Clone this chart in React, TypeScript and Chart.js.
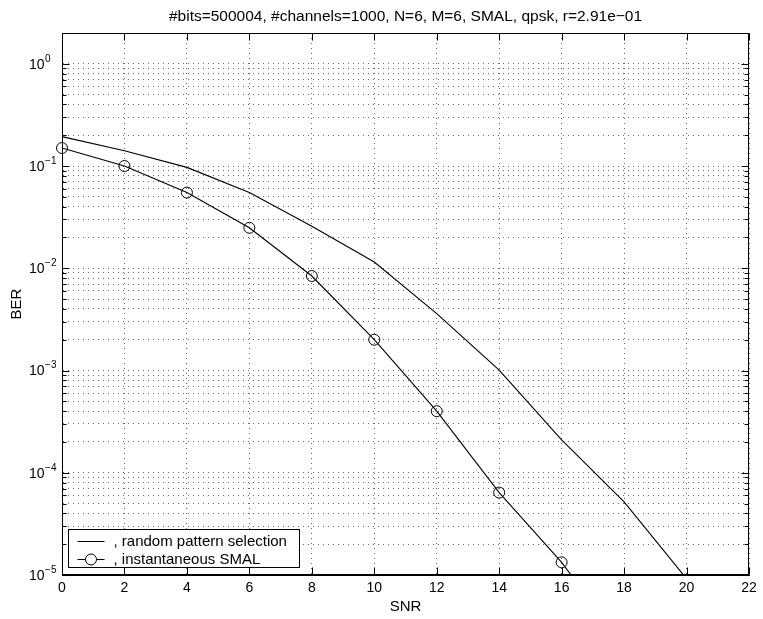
import React, { useEffect, useRef } from 'react';
import { Chart, registerables } from 'chart.js';

Chart.register(...registerables);

const TITLE = '#bits=500004, #channels=1000, N=6, M=6, SMAL, qpsk, r=2.91e\u221201';
const X_LABEL = 'SNR';
const Y_LABEL = 'BER';

const RANDOM_SNR = [0, 2, 4, 6, 8, 10, 12, 14, 16, 18, 20];
const RANDOM_BER = [0.194, 0.141, 0.097, 0.055, 0.0258, 0.0115, 0.0036, 0.00101, 0.00021, 0.000052, 0.0000092];

const SMAL_SNR = [0, 2, 4, 6, 8, 10, 12, 14, 16, 18];
const SMAL_BER = [0.15, 0.1, 0.055, 0.0249, 0.0084, 0.002, 0.0004, 0.000064, 0.0000133, 0.000002];

const SERIES_LABELS = [', random pattern selection', ', instantaneous SMAL'];

const X_TICKS = [0, 2, 4, 6, 8, 10, 12, 14, 16, 18, 20, 22];
const Y_DECADES = [-5, -4, -3, -2, -1, 0];
const Y_MINOR_MULTIPLIERS = [1, 2, 3, 4, 5, 6, 7, 8, 9];
const Y_MIN = 1e-5;
const Y_MAX = 2;

const FONT = '"Liberation Sans", Arial, Helvetica, sans-serif';

const yTickValues: number[] = [];
Y_DECADES.forEach((e) => {
  Y_MINOR_MULTIPLIERS.forEach((m) => {
    const v = m * Math.pow(10, e);
    if (v <= Y_MAX * 1.0001) yTickValues.push(v);
  });
});

const isDecade = (v: number) => Math.abs(Math.log10(v) - Math.round(Math.log10(v))) < 1e-9;

const matlabPlugin = {
  id: 'matlabDecor',
  afterDatasetsDraw(chart: any) {
    const { ctx, chartArea: a, scales } = chart;
    const xs = scales.x;
    const ys = scales.y;
    const L = Math.round(a.left) + 0.5;
    const R = Math.round(a.right) - 0.5;
    const T = Math.round(a.top) + 0.5;
    const B = Math.round(a.bottom) - 0.5;
    ctx.save();
    ctx.strokeStyle = '#000';
    ctx.lineWidth = 1;
    ctx.setLineDash([]);
    ctx.beginPath();
    X_TICKS.forEach((v) => {
      const px = Math.round(xs.getPixelForValue(v)) + 0.5;
      ctx.moveTo(px, B);
      ctx.lineTo(px, B - 7);
      ctx.moveTo(px, T);
      ctx.lineTo(px, T + 7);
    });
    yTickValues.forEach((v) => {
      const py = Math.round(ys.getPixelForValue(v)) + 0.5;
      const len = isDecade(v) ? 7 : 4;
      ctx.moveTo(L, py);
      ctx.lineTo(L + len, py);
      ctx.moveTo(R, py);
      ctx.lineTo(R - len, py);
    });
    ctx.stroke();
    ctx.strokeRect(L, T, R - L, B - T);

    // legend
    const lx = Math.round(a.left) + 6.5;
    const ly = Math.round(a.bottom) - 45.5;
    const lw = 231;
    const lh = 38;
    ctx.fillStyle = '#fff';
    ctx.fillRect(lx, ly, lw, lh);
    ctx.strokeRect(lx, ly, lw, lh);
    const rows = [ly + 11, ly + 29];
    ctx.font = '15px ' + FONT;
    ctx.textAlign = 'left';
    ctx.textBaseline = 'middle';
    chart.data.datasets.forEach((ds: any, i: number) => {
      const y = Math.round(rows[i]) + 0.5;
      const x0 = lx + 9;
      const x1 = lx + 36;
      ctx.beginPath();
      if (ds.pointRadius > 0) {
        const cx = (x0 + x1) / 2;
        ctx.moveTo(x0, y);
        ctx.lineTo(cx - ds.pointRadius, y);
        ctx.moveTo(cx + ds.pointRadius, y);
        ctx.lineTo(x1, y);
        ctx.stroke();
        ctx.beginPath();
        ctx.arc(cx, y, ds.pointRadius, 0, Math.PI * 2);
        ctx.stroke();
      } else {
        ctx.moveTo(x0, y);
        ctx.lineTo(x1, y);
        ctx.stroke();
      }
      ctx.fillStyle = '#000';
      ctx.fillText(ds.label, lx + 45, rows[i] + 1);
    });
    ctx.restore();
  },
  afterDraw(chart: any) {
    const { ctx, scales } = chart;
    const ys = scales.y;
    ctx.save();
    ctx.fillStyle = '#000';
    ctx.textAlign = 'left';
    ctx.textBaseline = 'middle';
    Y_DECADES.forEach((e) => {
      const y = ys.getPixelForValue(Math.pow(10, e));
      ctx.font = '14px ' + FONT;
      ctx.fillText('10', 29, y + 1);
      const w = ctx.measureText('10').width;
      ctx.font = '10px ' + FONT;
      const exp = e < 0 ? '\u2212' + String(-e) : String(e);
      ctx.fillText(exp, 29 + w + 0.5, y - 5);
    });
    ctx.restore();
  },
};

export default function App() {
  const ref = useRef<HTMLCanvasElement | null>(null);
  useEffect(() => {
    document.body.style.margin = '0';
    const canvas = ref.current;
    if (!canvas) return;
    const chart = new Chart(canvas, {
      type: 'line',
      data: {
        datasets: [
          {
            label: SERIES_LABELS[0],
            data: RANDOM_SNR.map((x, i) => ({ x, y: RANDOM_BER[i] })),
            borderColor: '#000',
            borderWidth: 1.1,
            pointRadius: 0,
            pointHoverRadius: 0,
            fill: false,
            tension: 0,
            clip: { left: 10, top: 0, right: 0, bottom: 0 },
          },
          {
            label: SERIES_LABELS[1],
            data: SMAL_SNR.map((x, i) => ({ x, y: SMAL_BER[i] })),
            borderColor: '#000',
            borderWidth: 1.1,
            pointRadius: 5.5,
            pointHoverRadius: 5.5,
            pointStyle: 'circle',
            pointBorderColor: '#000',
            pointBackgroundColor: 'rgba(0,0,0,0)',
            pointBorderWidth: 1,
            fill: false,
            tension: 0,
            clip: { left: 10, top: 10, right: 10, bottom: 0 },
          },
        ],
      },
      options: {
        animation: false,
        responsive: false,
        devicePixelRatio: 1,
        events: [],
        layout: { padding: { left: 0, right: 14, top: 0, bottom: 0 } },
        plugins: {
          legend: { display: false },
          tooltip: { enabled: false },
          title: {
            display: true,
            fullSize: false,
            text: TITLE,
            color: '#000',
            font: { family: FONT, size: 15.5, weight: 'normal', lineHeight: 1.2 },
            padding: { top: 7, bottom: 7.4 },
          },
        },
        scales: {
          x: {
            type: 'linear',
            min: 0,
            max: 22,
            afterFit: (s: any) => {
              s.height = 44;
            },
            ticks: {
              stepSize: 2,
              color: '#000',
              padding: 5,
              maxRotation: 0,
              autoSkip: false,
              font: { family: FONT, size: 14 },
            },
            grid: {
              color: 'rgba(0,0,0,0.6)',
              lineWidth: 1,
              drawTicks: false,
            },
            border: { display: true, color: '#000', dash: [1, 4] },
            title: {
              display: true,
              text: X_LABEL,
              color: '#000',
              font: { family: FONT, size: 15 },
              padding: { top: 0, bottom: 3 },
            },
          },
          y: {
            type: 'logarithmic',
            min: Y_MIN,
            max: Y_MAX,
            afterFit: (s: any) => {
              s.width = 62;
            },
            afterBuildTicks: (s: any) => {
              s.ticks = yTickValues.map((v) => ({ value: v, major: isDecade(v) }));
            },
            ticks: {
              callback: () => '',
              autoSkip: false,
              color: '#000',
              font: { family: FONT, size: 14 },
            },
            grid: {
              color: 'rgba(0,0,0,0.6)',
              lineWidth: 1,
              drawTicks: false,
            },
            border: { display: true, color: '#000', dash: [1, 4] },
            title: {
              display: true,
              text: Y_LABEL,
              color: '#000',
              font: { family: FONT, size: 15 },
              padding: { top: 8, bottom: 0 },
            },
          },
        },
      },
      plugins: [matlabPlugin],
    } as any);
    return () => chart.destroy();
  }, []);
  return (
    <div style={{ width: 763, height: 619, overflow: 'hidden' }}>
      <canvas ref={ref} width={763} height={619} style={{ display: 'block' }} />
    </div>
  );
}
